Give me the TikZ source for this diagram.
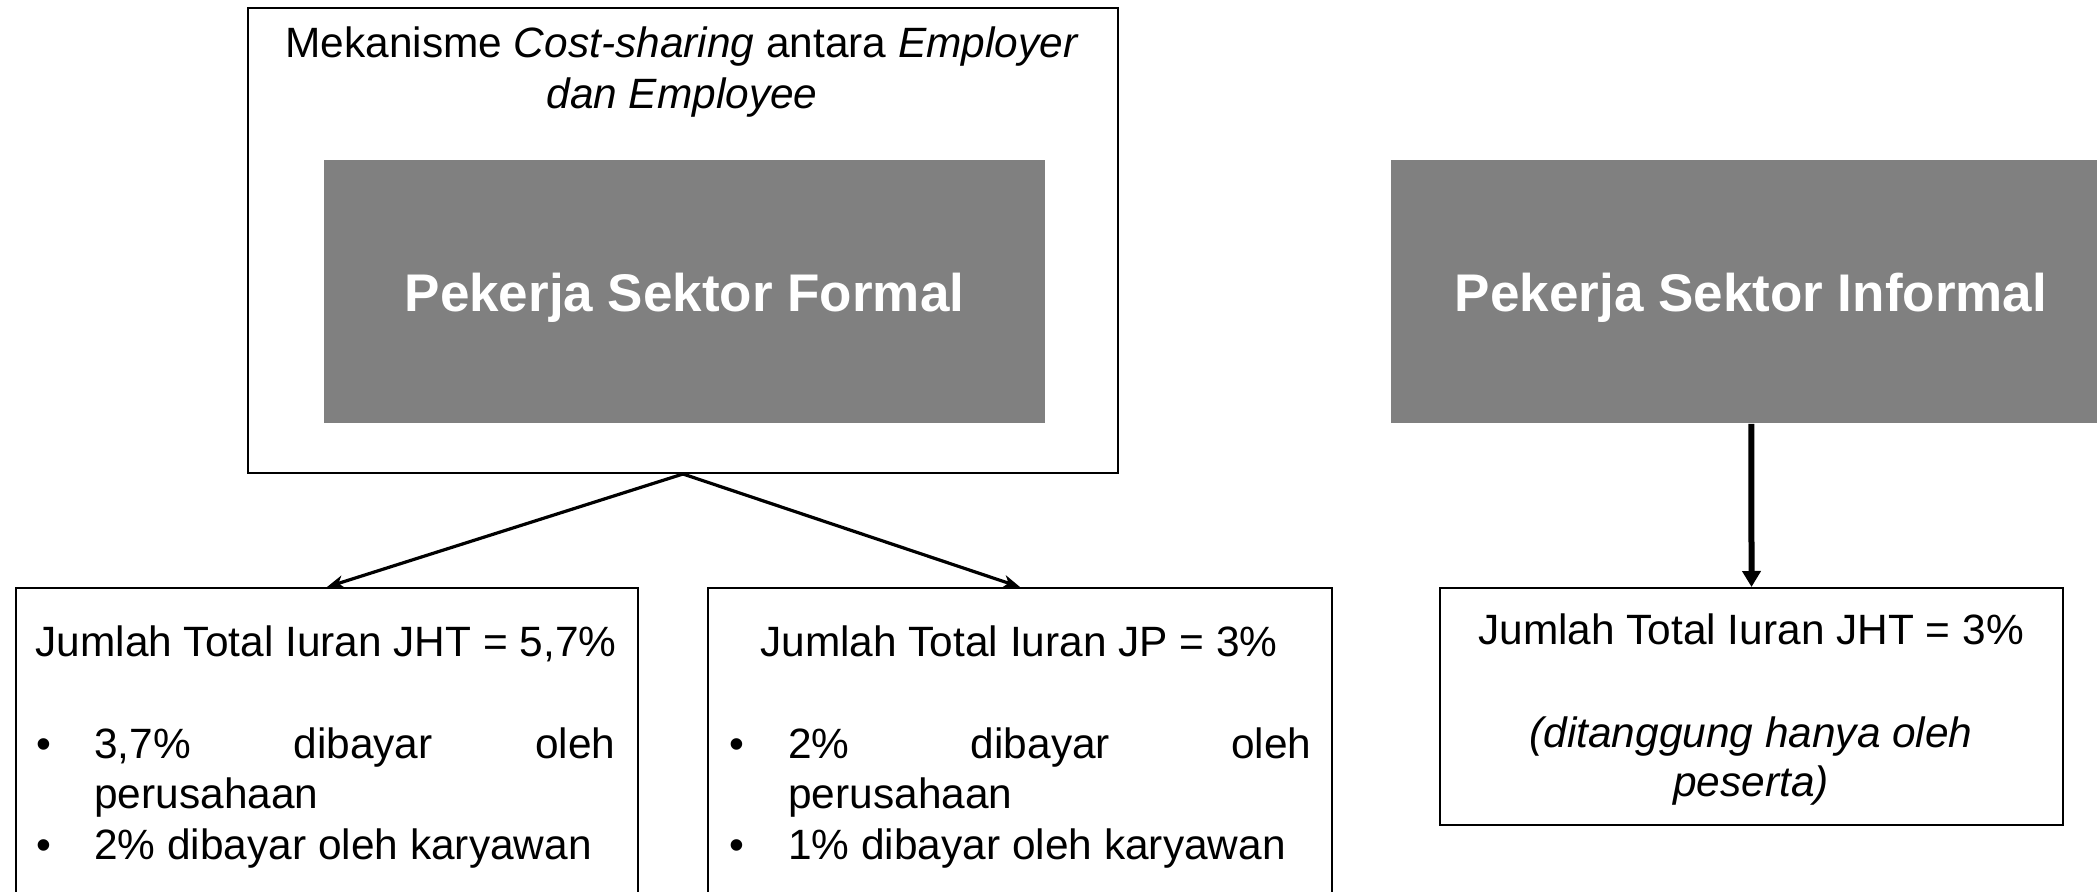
\documentclass[tikz,border=0pt]{standalone}
\usepackage{fontspec}
\setmainfont{Liberation Sans}
\usetikzlibrary{arrows.meta}
\definecolor{boxgray}{RGB}{128,128,128}
\begin{document}
\begin{tikzpicture}[x=0.5pt,y=-0.5pt,
  frame/.style={draw=black,line width=1pt,fill=white,inner sep=0pt,anchor=north west},
  graybox/.style={fill=boxgray,draw=none,inner sep=0pt,anchor=north west},
  bigtxt/.style={text=white,font=\fontsize{26.5}{32}\selectfont\bfseries,inner sep=0pt,anchor=base},
  txt/.style={font=\fontsize{21.2}{25.5}\selectfont,inner sep=0pt},
  slant/.style={line width=1.6pt,-{Stealth[length=8.5pt,width=6.5pt,inset=2.5pt]}},
  vert/.style={line width=3pt,-{Triangle[length=8pt,width=9pt]}}]
\useasboundingbox (0,0) rectangle (2097,892);
\clip (0,0) rectangle (2097,892);
% top formal frame
\node[frame,minimum width=435pt,minimum height=232.5pt] (outer) at (247,7) {};
\node[txt,anchor=base] (t1) at (682,58) {Mekanisme \textit{Cost-sharing} antara \textit{Employer}};
\node[txt,anchor=base] (t2) at (682,109) {\textit{dan Employee}};
\node[graybox,minimum width=360.5pt,minimum height=131.5pt] (formal) at (324,160) {};
\node[bigtxt] (formaltxt) at (684.5,312) {Pekerja Sektor Formal};
% informal
\node[graybox,minimum width=360pt,minimum height=131.5pt] (informal) at (1391,160) {};
\node[bigtxt] (informaltxt) at (1751,312) {Pekerja Sektor Informal};
% bottom boxes
\node[frame,minimum width=311pt,minimum height=166.5pt] (jht) at (15,587) {};
\node[frame,minimum width=312pt,minimum height=166.5pt] (jp) at (707,587) {};
\node[frame,minimum width=311.5pt,minimum height=118.5pt] (ijht) at (1439,587) {};
% JHT text
\node[txt,anchor=base] (jht0) at (326,656) {Jumlah Total Iuran JHT = 5,7\%};
\node[txt,anchor=base west] (jhtb1) at (36,758) {•};
\node[txt,anchor=base west] (jht1) at (94,758) {\makebox[260.5pt][s]{3,7\% dibayar oleh}};
\node[txt,anchor=base west] (jht2) at (94,808) {perusahaan};
\node[txt,anchor=base west] (jhtb2) at (36,859) {•};
\node[txt,anchor=base west] (jht3) at (94,859) {2\% dibayar oleh karyawan};
% JP text
\node[txt,anchor=base] (jp0) at (1019,656) {Jumlah Total Iuran JP = 3\%};
\node[txt,anchor=base west] (jpb1) at (729,758) {•};
\node[txt,anchor=base west] (jp1) at (788,758) {\makebox[261.5pt][s]{2\% dibayar oleh}};
\node[txt,anchor=base west] (jp2) at (788,808) {perusahaan};
\node[txt,anchor=base west] (jpb2) at (729,859) {•};
\node[txt,anchor=base west] (jp3) at (788,859) {1\% dibayar oleh karyawan};
% informal JHT text
\node[txt,anchor=base] (ij0) at (1751,644) {Jumlah Total Iuran JHT = 3\%};
\node[txt,anchor=base] (ij1) at (1751,747) {\textit{(ditanggung hanya oleh}};
\node[txt,anchor=base] (ij2) at (1751,796) {\textit{peserta)}};
% connectors
\draw[slant] (outer.south) -- (jht.north);
\draw[slant] (outer.south) -- (jp.north);
\draw[vert] (informal.south) -- (ijht.north);
\end{tikzpicture}
\end{document}
